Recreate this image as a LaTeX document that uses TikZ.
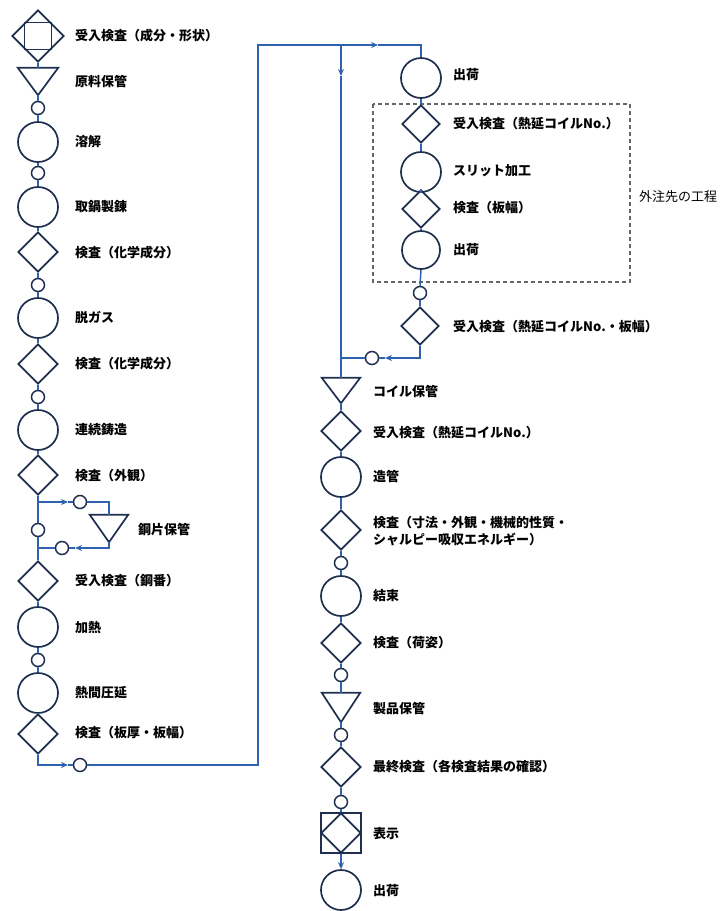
\documentclass[tikz,border=0pt]{standalone}
\usepackage{fontspec}
\newfontfamily\jp{Noto Sans CJK JP}
\usetikzlibrary{shapes.geometric,arrows.meta}
\definecolor{shapecol}{HTML}{1F2F4F}
\definecolor{linecol}{HTML}{2E62AE}
\definecolor{boxcol}{HTML}{666666}
\begin{document}
\begin{tikzpicture}[x=1pt,y=-1pt,
  big/.style={circle,draw=shapecol,line width=1.7pt,minimum size=40pt,inner sep=0pt},
  small/.style={circle,draw=shapecol,line width=1.5pt,minimum size=13pt,inner sep=0pt},
  dia/.style={diamond,draw=shapecol,line width=1.7pt,minimum width=40pt,minimum height=40pt,inner sep=0pt},
  sqbox/.style={rectangle,draw=shapecol,line width=1.7pt,inner sep=0pt},
  trib/.style={rectangle,draw=none,minimum width=40pt,minimum height=27pt,inner sep=0pt},
  triline/.style={draw=shapecol,line width=1.7pt,line join=miter},
  lbl/.style={anchor=west,font=\jp\bfseries\fontsize{13}{17}\selectfont,text=black,inner sep=0pt,align=left},
  conn/.style={draw=linecol,line width=1.5pt},
  arr/.style={conn,-{Stealth[length=7pt,width=6pt]}}
]
\useasboundingbox (0,0) rectangle (724,911);

% ---------------- left column ----------------
\node[dia,minimum width=52pt,minimum height=52pt] (L1) at (38,36) {};
\node[sqbox,minimum size=27pt] (L1s) at (L1) {};
\node[lbl] (t1) at (75,36) {受入検査（成分・形状）};

\node[trib] (L2) at (38,81.5) {};
\draw[triline] (L2.north west) -- (L2.north east) -- (L2.south) -- cycle;
\node[lbl] (t2) at (75,82) {原料保管};

\node[small] (s1) at (38,108) {};
\node[big] (L3) at (38,142) {};
\node[lbl] (t3) at (75,142) {溶解};
\node[small] (s2) at (38,173) {};
\node[big] (L4) at (38,207) {};
\node[lbl] (t4) at (75,207) {取鍋製錬};
\node[dia] (L5) at (38,252) {};
\node[lbl] (t5) at (75,253) {検査（化学成分）};
\node[small] (s3) at (38,285) {};
\node[big] (L6) at (38,318) {};
\node[lbl] (t6) at (75,318) {脱ガス};
\node[dia] (L7) at (38,364) {};
\node[lbl] (t7) at (75,364) {検査（化学成分）};
\node[small] (s4) at (38,397) {};
\node[big] (L8) at (38,430) {};
\node[lbl] (t8) at (75,430) {連続鋳造};
\node[dia] (L9) at (38,475) {};
\node[lbl] (t9) at (75,476) {検査（外観）};

\coordinate (b1) at (38,502);
\coordinate (b2) at (38,548);
\node[small] (s5) at (38,530) {};
\node[small] (sb1) at (80,502) {};
\node[trib,minimum width=38pt] (T2) at (109,528.5) {};
\draw[triline] (T2.north west) -- (T2.north east) -- (T2.south) -- cycle;
\node[lbl] (tT2) at (138,530) {鋼片保管};
\node[small] (sb2) at (62,548) {};

\node[dia] (L10) at (38,581) {};
\node[lbl] (t10) at (75,581) {受入検査（鋼番）};
\node[big] (L11) at (38,627) {};
\node[lbl] (t11) at (75,628) {加熱};
\node[small] (s6) at (38,660) {};
\node[big] (L12) at (38,693) {};
\node[lbl] (t12) at (75,693) {熱間圧延};
\node[dia] (L13) at (38,734) {};
\node[lbl] (t13) at (75,733) {検査（板厚・板幅）};
\node[small] (sb3) at (80,765) {};

% connectors left
\draw[conn] (L1.south) -- (L2.north);
\draw[conn] (L2.south) -- (s1.north);
\draw[conn] (s1.south) -- (L3.north);
\draw[conn] (L3.south) -- (s2.north);
\draw[conn] (s2.south) -- (L4.north);
\draw[conn] (L4.south) -- (L5.north);
\draw[conn] (L5.south) -- (s3.north);
\draw[conn] (s3.south) -- (L6.north);
\draw[conn] (L6.south) -- (L7.north);
\draw[conn] (L7.south) -- (s4.north);
\draw[conn] (s4.south) -- (L8.north);
\draw[conn] (L8.south) -- (L9.north);
\draw[conn] (L9.south) -- (s5.north);
\draw[conn] (s5.south) -- (L10.north);
\coordinate (a5) at (68,502);
\draw[arr] (b1) -- (a5);
\draw[conn] (a5) -- (sb1.west);
\draw[conn] (sb1.east) -| (T2.north);
\coordinate (a6) at (75,548);
\draw[arr] (T2.south) |- (a6);
\draw[conn] (a6) -- (sb2.east);
\draw[conn] (sb2.west) -- (b2);
\draw[conn] (L10.south) -- (L11.north);
\draw[conn] (L11.south) -- (s6.north);
\draw[conn] (s6.south) -- (L12.north);
\draw[conn] (L12.south) -- (L13.north);
\coordinate (a1) at (68,765);
\draw[arr] (L13.south) |- (a1);
\draw[conn] (a1) -- (sb3.west);

% ---------------- upper right column ----------------
\node[big] (R1) at (421,78) {};
\node[lbl] (r1) at (453,75) {出荷};
\draw[draw=boxcol,line width=1.2pt,dash pattern=on 4pt off 3pt] (373,104) rectangle (630,282);
\node[lbl,font=\jp\fontsize{13}{17}\selectfont] (rx) at (639,197) {外注先の工程};
\node[dia,minimum width=38pt,minimum height=38pt] (R2) at (421,124) {};
\node[lbl] (r2) at (453,124) {受入検査（熱延コイルNo.）};
\node[big] (R3) at (421,172) {};
\node[lbl] (r3) at (453,171) {スリット加工};
\node[dia,minimum width=38pt,minimum height=38pt] (R4) at (421,209) {};
\node[lbl] (r4) at (453,208) {検査（板幅）};
\node[big,minimum size=38pt] (R5) at (421,250) {};
\node[lbl] (r5) at (453,250) {出荷};
\node[small] (sR1) at (420,293) {};
\node[dia,minimum width=38pt,minimum height=38pt] (R6) at (420,326) {};
\node[lbl] (r6) at (453,327) {受入検査（熱延コイルNo.・板幅）};
\node[small] (sR2) at (372,358) {};

% long return line
\coordinate (k2) at (258,45);
\coordinate (k4) at (341,45);
\coordinate (a2) at (378,45);
\draw[arr] (sb3.east) -| (k2) -- (a2);
\draw[conn] (a2) -| (R1.north);
\draw[conn] (R1.south) -- (R2.north);
\draw[conn] (R2.south) -- (R3.north);
\draw[conn] (R3.south) -- (R4.north);
\draw[conn] (R4.south) -- (R5.north);
\draw[conn] (R5.south) -- (sR1.north);
\draw[conn] (sR1.south) -- (R6.north);
\coordinate (a4) at (385,358);
\coordinate (k5) at (341,358);
\draw[arr] (R6.south) |- (a4);
\draw[conn] (a4) -- (sR2.east);
\draw[conn] (sR2.west) -- (k5);

% ---------------- lower right column ----------------
\node[trib,minimum width=38pt,minimum height=25pt] (T3) at (341,390.5) {};
\draw[triline] (T3.north west) -- (T3.north east) -- (T3.south) -- cycle;
\node[lbl] (u1) at (373,392) {コイル保管};
\node[dia] (U2) at (341,431) {};
\node[lbl] (u2) at (373,433) {受入検査（熱延コイルNo.）};
\node[big] (U3) at (341,477) {};
\node[lbl] (u3) at (373,477) {造管};
\node[dia] (U4) at (341,530) {};
\node[lbl] (u4) at (373,531) {検査（寸法・外観・機械的性質・\\シャルピー吸収エネルギー）};
\node[small] (sU1) at (341,563) {};
\node[big] (U5) at (341,596) {};
\node[lbl] (u5) at (373,596) {結束};
\node[dia] (U6) at (341,643) {};
\node[lbl] (u6) at (373,643) {検査（荷姿）};
\node[small] (sU2) at (341,675) {};
\node[trib,minimum width=38pt,minimum height=29pt] (T4) at (341,707.5) {};
\draw[triline] (T4.north west) -- (T4.north east) -- (T4.south) -- cycle;
\node[lbl] (u7) at (373,708) {製品保管};
\node[small] (sU3) at (341,735) {};
\node[dia] (U8) at (341,767) {};
\node[lbl] (u8) at (373,767) {最終検査（各検査結果の確認）};
\node[small] (sU4) at (341,802) {};
\node[sqbox,minimum size=40pt] (U9) at (341,833) {};
\node[dia] (U9d) at (U9) {};
\node[lbl] (u9) at (373,834) {表示};
\node[big] (U10) at (341,890) {};
\node[lbl] (u10) at (373,891) {出荷};

\coordinate (a3) at (341,76);
\draw[arr] (k4) -- (a3);
\draw[conn] (a3) -- (T3.north);
\draw[conn] (T3.south) -- (U2.north);
\draw[conn] (U2.south) -- (U3.north);
\draw[conn] (U3.south) -- (U4.north);
\draw[conn] (U4.south) -- (sU1.north);
\draw[conn] (sU1.south) -- (U5.north);
\draw[conn] (U5.south) -- (U6.north);
\draw[conn] (U6.south) -- (sU2.north);
\draw[conn] (sU2.south) -- (T4.north);
\draw[conn] (T4.south) -- (sU3.north);
\draw[conn] (sU3.south) -- (U8.north);
\draw[conn] (U8.south) -- (sU4.north);
\draw[conn] (sU4.south) -- (U9.north);
\draw[arr] (U9.south) -- (U10.north);
\end{tikzpicture}
\end{document}
